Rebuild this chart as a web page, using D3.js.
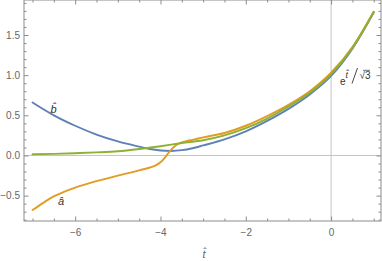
<!DOCTYPE html>
<html><head><meta charset="utf-8">
<script src="https://cdn.jsdelivr.net/npm/d3@7"></script>
<style>
html,body{margin:0;padding:0;background:#fff;}
svg{display:block;}
</style></head>
<body>
<svg id="chart" width="382" height="261"></svg>
<script>
// ---- data ----
const blueT  = [-7,-6.5,-6,-5.5,-5,-4.5,-4.25,-4,-3.75,-3.5,-3.25,-3,-2.5,-2,-1.5,-1,-0.5,0,0.5,1];
const blueV  = [0.66,0.50,0.37,0.26,0.175,0.11,0.08,0.062,0.056,0.066,0.09,0.125,0.20,0.30,0.43,0.58,0.76,0.99,1.33,1.78];
const greenT = [-7,-6.5,-6,-5.5,-5,-4.5,-4,-3.5,-3,-2.5,-2,-1.5,-1,-0.5,0,0.5,1];
const greenV = [0.015,0.02,0.028,0.038,0.052,0.08,0.115,0.155,0.19,0.25,0.34,0.46,0.61,0.78,1.01,1.34,1.79];
const orangeT = [-7,-6.75,-6.5,-6.25,-6,-5.5,-5,-4.5,-4.25,-4.1,-4,-3.9,-3.8,-3.7,-3.6,-3.5,-3.4,-3.25,-3,-2.5,-2,-1.5,-1,-0.5,0,0.5,1];
const orangeV = [-0.68,-0.59,-0.51,-0.45,-0.40,-0.32,-0.25,-0.185,-0.15,-0.12,-0.085,-0.03,0.04,0.10,0.14,0.163,0.178,0.195,0.225,0.28,0.37,0.49,0.63,0.80,1.03,1.35,1.79];
const xMajorTicks = [-6,-4,-2,0];
const xMinorTicks = [-7,-6.5,-5.5,-5,-4.5,-3.5,-3,-2.5,-1.5,-1,-0.5,0.5,1];
const yMajorTicks = [-0.5,0,0.5,1,1.5];
const yMinorTicks = [-0.8,-0.7,-0.6,-0.4,-0.3,-0.2,-0.1,0.1,0.2,0.3,0.4,0.6,0.7,0.8,0.9,1.1,1.2,1.3,1.4,1.6,1.7,1.8,1.9];

const svg = d3.select("#chart");
const L = 24, R = 381, T = 0, B = 221;
const x = d3.scaleLinear().domain([-7.2, 1.17]).range([L, R]);
const y = d3.scaleLinear().domain([-0.816, 1.936]).range([B, T]);

const frameCol = "#8c8c8c", labelCol = "#666";
const fmtY = v => (v < 0 ? "\u2212" : "") + Math.abs(v).toFixed(1);
const fmtX = v => (v < 0 ? "\u2212" : "") + Math.abs(v);

// zero lines
svg.append("line").attr("x1", x(0)).attr("x2", x(0)).attr("y1", T).attr("y2", B)
  .attr("stroke", "#c4c4c4").attr("stroke-width", 1);
svg.append("line").attr("x1", L).attr("x2", R).attr("y1", y(0)).attr("y2", y(0))
  .attr("stroke", "#c4c4c4").attr("stroke-width", 1);

function styleAxis(g){
  g.select(".domain").remove();
  g.selectAll(".tick line").attr("stroke", frameCol);
  g.selectAll(".tick text").attr("fill", labelCol)
    .style("font-family", "'Liberation Sans', Arial, sans-serif").style("font-size", "10px");
}
// bottom
svg.append("g").attr("transform", `translate(0,${B})`)
  .call(d3.axisBottom(x).tickValues(xMajorTicks).tickSize(-4.5).tickPadding(8).tickFormat(fmtX)).call(styleAxis);
svg.append("g").attr("transform", `translate(0,${B})`)
  .call(d3.axisBottom(x).tickValues(xMinorTicks).tickSize(-2.5).tickFormat("")).call(styleAxis);
// top
svg.append("g").attr("transform", `translate(0,${T})`)
  .call(d3.axisTop(x).tickValues(xMajorTicks).tickSize(-4.5).tickFormat("")).call(styleAxis);
svg.append("g").attr("transform", `translate(0,${T})`)
  .call(d3.axisTop(x).tickValues(xMinorTicks).tickSize(-2.5).tickFormat("")).call(styleAxis);
// left
svg.append("g").attr("transform", `translate(${L},0)`)
  .call(d3.axisLeft(y).tickValues(yMajorTicks).tickSize(-4.5).tickPadding(4).tickFormat(fmtY)).call(styleAxis);
svg.append("g").attr("transform", `translate(${L},0)`)
  .call(d3.axisLeft(y).tickValues(yMinorTicks).tickSize(-2.5).tickFormat("")).call(styleAxis);
// right
svg.append("g").attr("transform", `translate(${R},0)`)
  .call(d3.axisRight(y).tickValues(yMajorTicks).tickSize(-4.5).tickFormat("")).call(styleAxis);
svg.append("g").attr("transform", `translate(${R},0)`)
  .call(d3.axisRight(y).tickValues(yMinorTicks).tickSize(-2.5).tickFormat("")).call(styleAxis);

// frame
svg.append("rect").attr("x", L).attr("y", T).attr("width", R - L).attr("height", B - T)
  .attr("fill", "none").attr("stroke", frameCol).attr("stroke-width", 1);

// curves
const line = d3.line().x(d => x(d[0])).y(d => y(d[1])).curve(d3.curveMonotoneX);
const series = [
  {t: blueT, v: blueV, c: "#5E81B5"},
  {t: orangeT, v: orangeV, c: "#E19C24"},
  {t: greenT, v: greenV, c: "#8FB032"}
];
series.forEach(s => {
  svg.append("path").datum(d3.zip(s.t, s.v)).attr("d", line)
    .attr("fill", "none").attr("stroke", s.c).attr("stroke-width", 1.9)
    .attr("stroke-linejoin", "round").attr("stroke-linecap", "round");
});

// labels
const sans = "'Liberation Sans', Arial, sans-serif";
function txt(xp, yp, s, opts = {}) {
  return svg.append("text").attr("x", xp).attr("y", yp).text(s)
    .attr("text-anchor", opts.anchor || "middle")
    .attr("fill", opts.fill || "#333")
    .style("font-family", opts.family || sans)
    .style("font-size", (opts.size || 11) + "px")
    .style("font-style", opts.italic ? "italic" : "normal");
}
// b-hat, a-hat
txt(53.5, 113, "b\u0302", {italic: true, size: 11});
txt(61, 205, "a\u0302", {italic: true, size: 11});
// e^t / sqrt3
const lab = svg.append("text").attr("x", 340).attr("y", 84.5).attr("fill", "#333")
  .style("font-family", sans).style("font-size", "10px");
lab.append("tspan").text("e");
lab.append("tspan").attr("dy", -7).style("font-style", "italic").style("font-size", "9px").text("t\u0302");
svg.append("line").attr("x1", 352).attr("y1", 83.5).attr("x2", 357.5).attr("y2", 68)
  .attr("stroke", "#333").attr("stroke-width", 0.9);
txt(365, 78.5, "\u221A3", {size: 10, anchor: "middle"});
svg.append("line").attr("x1", 363).attr("x2", 370).attr("y1", 70.3).attr("y2", 70.3)
  .attr("stroke", "#333").attr("stroke-width", 0.7);
// axis label t-hat
txt(204, 258, "t\u0302", {italic: true, size: 11, fill: "#666"});
</script>
</body></html>
